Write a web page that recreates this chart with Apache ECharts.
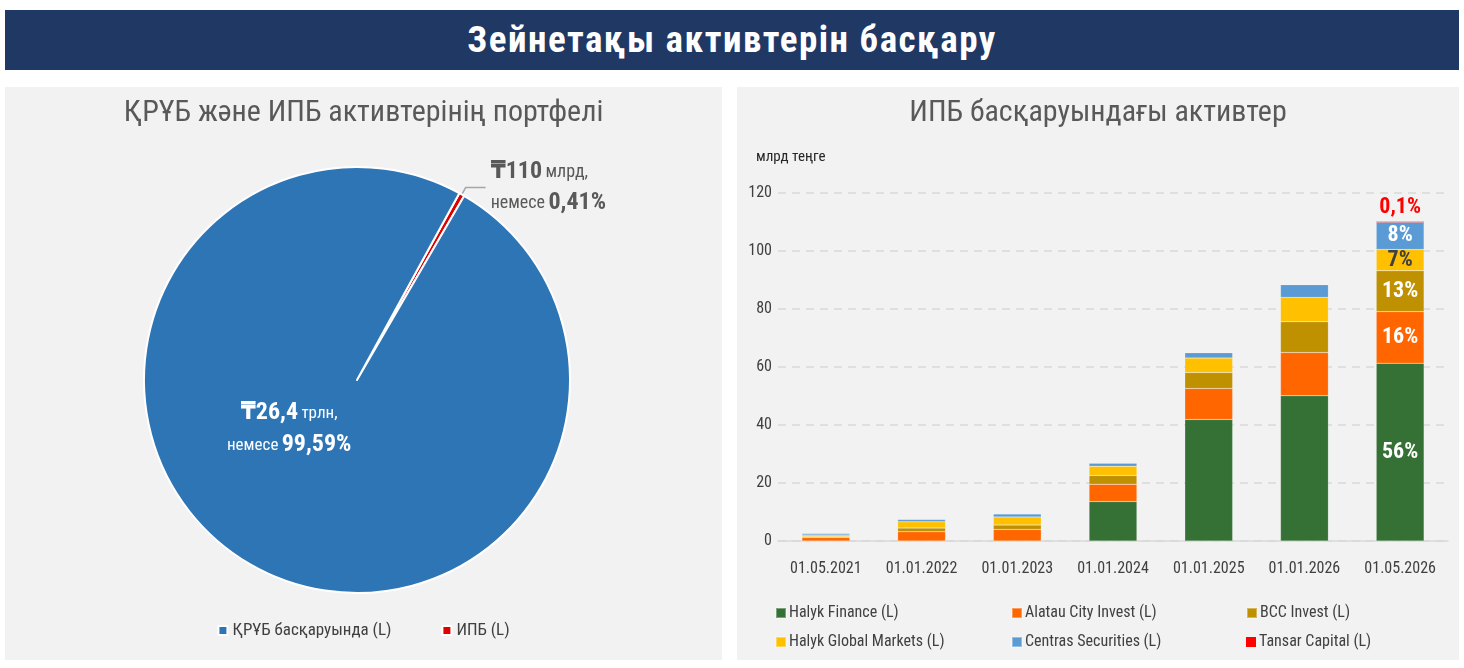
<!DOCTYPE html>
<html>
<head>
<meta charset="utf-8">
<script src="https://cdn.jsdelivr.net/npm/echarts@6/dist/echarts.min.js"></script>
<style>
  html, body { margin: 0; padding: 0; background: #fff; width: 1464px; height: 668px; overflow: hidden; }
  body { position: relative; font-family: 'Roboto Condensed', 'DejaVu Sans Condensed', 'Liberation Sans Narrow', Roboto, sans-serif; }
  #header {
    position: absolute; left: 5px; top: 10px; width: 1454px; height: 60px;
    background: #1f3864; color: #fff; font-size: 37px; font-weight: bold;
    text-align: center; line-height: 60px; letter-spacing: 1.5px;
  }
  .panel { position: absolute; top: 87px; height: 573px; background: #f2f2f2; }
  #chart-pie { left: 5px; width: 717px; }
  #chart-bar { left: 737px; width: 722px; }
</style>
</head>
<body>
<div id="header">Зейнетақы активтерін басқару</div>
<div id="chart-pie" class="panel"></div>
<div id="chart-bar" class="panel"></div>
<script>
var FONT = "'Roboto Condensed', 'DejaVu Sans Condensed', 'Liberation Sans Narrow', Roboto, sans-serif";

// pie: assets, trillion tenge
var pieNames = ['ИПБ (L)', 'ҚРҰБ басқаруында (L)'];
var pieValues = [0.11, 26.4];
var pieColors = ['#e00000', '#2e75b6'];

// bars: billion tenge
var categories = ['01.05.2021', '01.01.2022', '01.01.2023', '01.01.2024', '01.01.2025', '01.01.2026', '01.05.2026'];
var seriesNames = ['Halyk Finance (L)', 'Alatau City Invest (L)', 'BCC Invest (L)', 'Halyk Global Markets (L)', 'Centras Securities (L)', 'Tansar Capital (L)'];
var halykFinance = [0, 0, 0, 13.6, 41.9, 50.1, 61.3];
var alatauCity = [1.2, 3.2, 4.0, 6.0, 10.7, 14.9, 17.8];
var bccInvest = [0.3, 1.3, 1.5, 3.0, 5.5, 10.6, 14.1];
var halykGlobal = [0.6, 2.1, 2.8, 3.2, 5.0, 8.4, 7.3];
var centras = [0.5, 0.8, 1.0, 1.0, 1.8, 4.4, 9.4];
var tansar = [0, 0, 0, 0, 0, 0, 0.15];
var lastShares = ['56%', '16%', '13%', '7%', '8%', '0,1%'];
var seriesColors = ['#357035', '#ff6600', '#bf9000', '#ffc000', '#5b9bd5', '#ff0000'];
var labelColors = ['#fff', '#fff', '#fff', '#404040', '#fff', '#ff0000'];
var yTicks = [0, 20, 40, 60, 80, 100, 120];

(function() {
  var pie = echarts.init(document.getElementById('chart-pie'), null, { renderer: 'canvas' });
  var data = pieNames.map(function(n, i) {
    var item = { name: n, value: pieValues[i], itemStyle: { color: pieColors[i] } };
    if (i === 0) {
      item.label = {
        show: true, position: 'outside', color: '#595959',
        formatter: '{b|₸110} {n|млрд,}\n{n|немесе} {b|0,41%}',
        rich: {
          b: { fontSize: 24, fontWeight: 'bold', color: '#595959', fontFamily: FONT, lineHeight: 31 },
          n: { fontSize: 18, color: '#595959', fontFamily: FONT, lineHeight: 31 }
        }
      };
      item.labelLine = { show: true, length: 8, length2: 20, lineStyle: { color: '#a6a6a6', width: 1.5 } };
    } else {
      item.label = {
        show: true, position: 'inside', offset: [-14, -46], align: 'center',
        formatter: '{b|₸26,4} {n|трлн,}\n{n|немесе} {b|99,59%}',
        rich: {
          b: { fontSize: 24, fontWeight: 'bold', color: '#fff', fontFamily: FONT, lineHeight: 32 },
          n: { fontSize: 17, color: '#fff', fontFamily: FONT, lineHeight: 32 }
        }
      };
      item.labelLine = { show: false };
    }
    return item;
  });
  pie.setOption({
    animation: false,
    title: {
      text: 'ҚРҰБ және ИПБ активтерінің портфелі',
      left: 'center', top: 6,
      textStyle: { color: '#595959', fontSize: 30, fontWeight: 'normal', fontFamily: FONT }
    },
    legend: {
      data: [pieNames[1], pieNames[0]],
      bottom: 16, left: 'center',
      itemWidth: 9, itemHeight: 9, itemGap: 50, icon: 'rect',
      textStyle: { color: '#404040', fontSize: 17, fontFamily: FONT }
    },
    series: [{
      type: 'pie',
      center: [352, 293],
      radius: 213,
      startAngle: 61.3,
      clockwise: true,
      itemStyle: { borderColor: '#fff', borderWidth: 2 },
      emphasis: { disabled: true },
      data: data
    }]
  });

  var bar = echarts.init(document.getElementById('chart-bar'), null, { renderer: 'canvas' });
  var allData = [halykFinance, alatauCity, bccInvest, halykGlobal, centras, tansar];
  var series = allData.map(function(vals, si) {
    var last = vals.length - 1;
    return {
      name: seriesNames[si],
      type: 'bar',
      stack: 'total',
      barWidth: '50%',
      itemStyle: { color: seriesColors[si], borderColor: 'rgba(255,255,255,0.35)', borderWidth: si === 5 ? 0 : 0.5 },
      emphasis: { disabled: true },
      data: vals.map(function(v, i) {
        var d = { value: v };
        if (i === last) {
          d.label = {
            show: true,
            position: si === 5 ? 'top' : 'inside',
            distance: 3,
            formatter: lastShares[si],
            color: labelColors[si],
            fontSize: 22, fontWeight: 'bold', fontFamily: FONT
          };
        }
        return d;
      })
    };
  });

  var legends = seriesNames.map(function(n, i) {
    var col = i % 3, row = Math.floor(i / 3);
    return {
      data: [n],
      left: [33, 269, 504][col], top: [513, 542][row],
      itemWidth: 10, itemHeight: 10, icon: 'rect', itemGap: 0,
      textStyle: { color: '#404040', fontSize: 16, fontFamily: FONT, padding: [0, 0, 0, -2] }
    };
  });

  bar.setOption({
    animation: false,
    title: [{
      text: 'ИПБ басқаруындағы активтер',
      left: 'center', top: 6,
      textStyle: { color: '#595959', fontSize: 30, fontWeight: 'normal', fontFamily: FONT }
    }, {
      text: 'млрд теңге',
      left: 14, top: 58,
      textStyle: { color: '#262626', fontSize: 15, fontWeight: 'normal', fontFamily: FONT }
    }],
    legend: legends,
    grid: { left: 41, right: 11, top: 106, bottom: 119 },
    xAxis: {
      type: 'category',
      data: categories,
      axisTick: { show: false },
      axisLine: { lineStyle: { color: '#d9d9d9', width: 1.5 } },
      axisLabel: { color: '#404040', fontSize: 16, fontFamily: FONT, margin: 20 }
    },
    yAxis: {
      type: 'value',
      min: yTicks[0], max: yTicks[yTicks.length - 1], interval: 20,
      axisLine: { show: false },
      axisTick: { show: false },
      axisLabel: { color: '#404040', fontSize: 16, fontFamily: FONT, margin: 6 },
      splitLine: { lineStyle: { color: '#d9d9d9', type: [8, 6], width: 1.5 } }
    },
    series: series
  });
})();
</script>
</body>
</html>
